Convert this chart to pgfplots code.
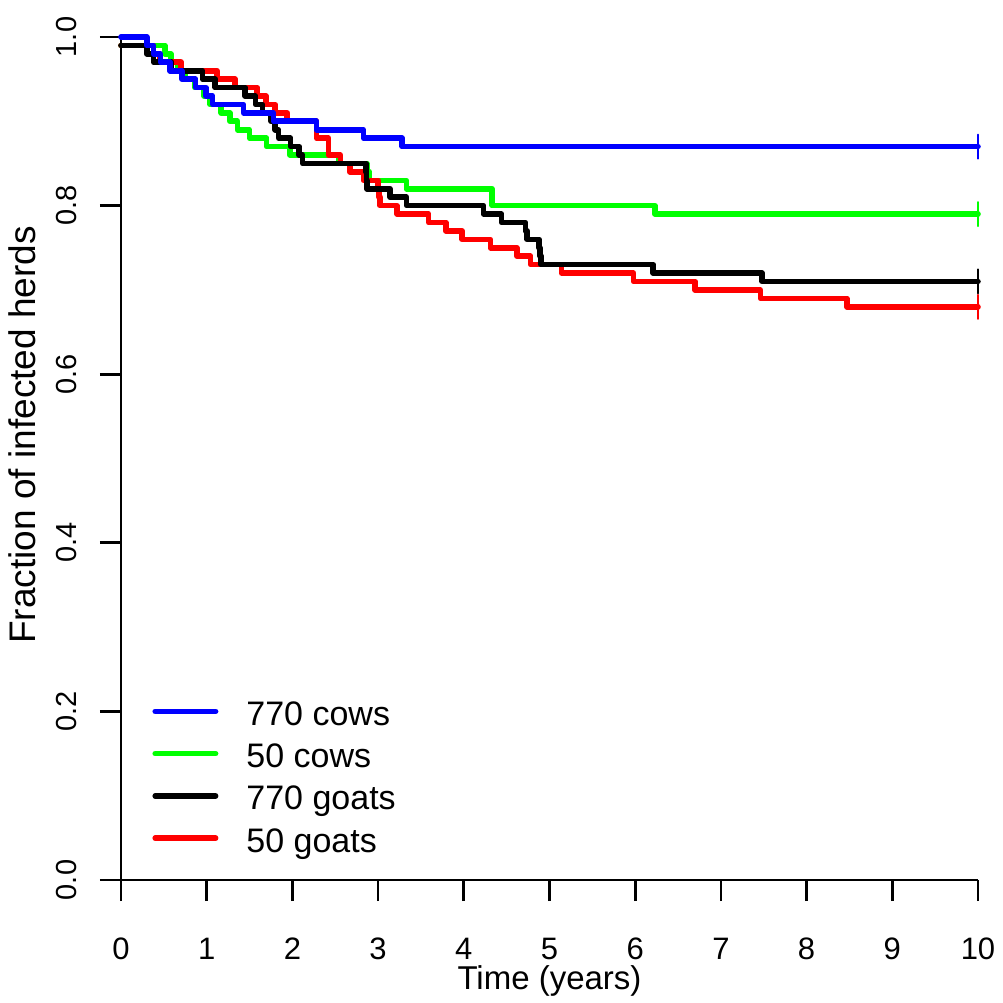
\documentclass[border=0pt]{standalone}
\usepackage{fontspec}
\setmainfont{Liberation Sans}
\usepackage{pgfplots}
\pgfplotsset{compat=1.18}
\definecolor{rblue}{RGB}{0,0,255}
\definecolor{rgreen}{RGB}{0,255,0}
\definecolor{rred}{RGB}{255,0,0}
\begin{document}
\begin{tikzpicture}
\path[use as bounding box] (-60.5pt,-61.5pt) rectangle (441pt,440pt);
\begin{axis}[
  anchor=origin, at={(0pt,0pt)},
  x=42.85pt, y=421.5pt,
  xmin=0, xmax=10, ymin=0, ymax=1,
  clip=false,
  axis x line*=bottom, axis y line*=left,
  axis line style={-, line width=1.35pt, black},
  tick style={line width=1.35pt, black},
  tick align=outside,
  major tick length=10.5pt,
  xtick={0,1,2,3,4,5,6,7,8,9,10},
  ytick={0,0.2,0.4,0.6,0.8,1.0},
  /pgf/number format/assume math mode=true,
  yticklabel={\pgfmathprintnumber[fixed,fixed zerofill,precision=1]{\tick}},
  xticklabel style={font=\fontsize{15.5}{18}\selectfont, anchor=base, yshift=-29pt, inner sep=0pt},
  yticklabel style={font=\fontsize{14.5}{17}\selectfont, xshift=-11.5pt, rotate=90, anchor=base},
  xlabel={Time (years)},
  ylabel={Fraction of infected herds},
  every axis x label/.style={at={(axis description cs:0.5,-0.1295)}, anchor=base, inner sep=0pt, font=\fontsize{16.5}{19}\selectfont},
  every axis y label/.style={at={(axis description cs:-0.1003,0.528)}, rotate=90, anchor=base, font=\fontsize{18.5}{21}\selectfont},
  legend cell align=left,
  legend style={draw=none, fill=none, inner sep=0pt, at={(axis cs:0.362,0.2136)}, anchor=north west,
    font=\fontsize{17}{20}\selectfont,
    nodes={inner sep=0pt, text height=12.5pt, text depth=3.5pt},
    row sep=5.15pt},
  legend image code/.code={\path[draw=none, fill=none] (0pt,2.5pt) -- (47pt,2.5pt);\draw[#1, line width=2.8pt, line cap=round] (1.4pt,2.5pt) -- (31.6pt,2.5pt);},
  every axis plot/.append style={line width=2.8pt, line join=round, line cap=round},
]
% 50 cows
\addplot[rgreen, const plot, forget plot] coordinates {
(0,0.99) (0.51,0.98) (0.58,0.97) (0.66,0.96) (0.75,0.95) (0.86,0.94) (0.97,0.93) (1.04,0.92) (1.17,0.91) (1.27,0.90) (1.36,0.89) (1.50,0.88) (1.70,0.87) (1.97,0.86) (2.54,0.85) (2.87,0.84) (2.90,0.83) (3.33,0.82) (4.33,0.80) (6.23,0.79) (10,0.79)};
% 50 goats
\addplot[rred, const plot, forget plot] coordinates {
(0,0.99) (0.38,0.98) (0.45,0.97) (0.70,0.96) (1.12,0.95) (1.33,0.94) (1.59,0.93) (1.69,0.92) (1.80,0.91) (1.94,0.90) (2.28,0.88) (2.42,0.86) (2.56,0.85) (2.67,0.84) (2.83,0.83) (3.00,0.82) (3.01,0.81) (3.02,0.80) (3.22,0.79) (3.59,0.78) (3.79,0.77) (3.98,0.76) (4.31,0.75) (4.62,0.74) (4.78,0.73) (5.14,0.72) (5.98,0.71) (6.70,0.70) (7.46,0.69) (8.47,0.68) (10,0.68)};
% 770 goats
\addplot[black, const plot, forget plot] coordinates {
(0,0.99) (0.30,0.98) (0.38,0.97) (0.59,0.96) (0.95,0.95) (1.10,0.94) (1.45,0.93) (1.57,0.92) (1.65,0.91) (1.75,0.90) (1.80,0.89) (1.84,0.88) (1.98,0.87) (2.08,0.86) (2.12,0.85) (2.86,0.84) (2.865,0.83) (2.87,0.82) (3.14,0.81) (3.33,0.80) (4.23,0.79) (4.44,0.78) (4.72,0.77) (4.74,0.76) (4.88,0.75) (4.89,0.74) (4.90,0.73) (6.21,0.72) (7.48,0.71) (10,0.71)};
% 770 cows
\addplot[rblue, const plot, forget plot] coordinates {
(0,1.00) (0.30,0.99) (0.38,0.98) (0.46,0.97) (0.57,0.96) (0.71,0.95) (0.87,0.94) (0.99,0.93) (1.07,0.92) (1.43,0.91) (1.78,0.90) (2.28,0.89) (2.83,0.88) (3.28,0.87) (10,0.87)};
% censoring marks
\addplot[rgreen, only marks, mark=|, mark size=6pt, mark options={line width=1pt}, forget plot] coordinates {(10,0.79)};
\addplot[rred, only marks, mark=|, mark size=6pt, mark options={line width=1pt}, forget plot] coordinates {(10,0.68)};
\addplot[black, only marks, mark=|, mark size=6pt, mark options={line width=1pt}, forget plot] coordinates {(10,0.71)};
\addplot[rblue, only marks, mark=|, mark size=6pt, mark options={line width=1pt}, forget plot] coordinates {(10,0.87)};
\addlegendimage{rblue}\addlegendentry{770 cows}
\addlegendimage{rgreen}\addlegendentry{50 cows}
\addlegendimage{black}\addlegendentry{770 goats}
\addlegendimage{rred}\addlegendentry{50 goats}
\end{axis}
\end{tikzpicture}
\end{document}
